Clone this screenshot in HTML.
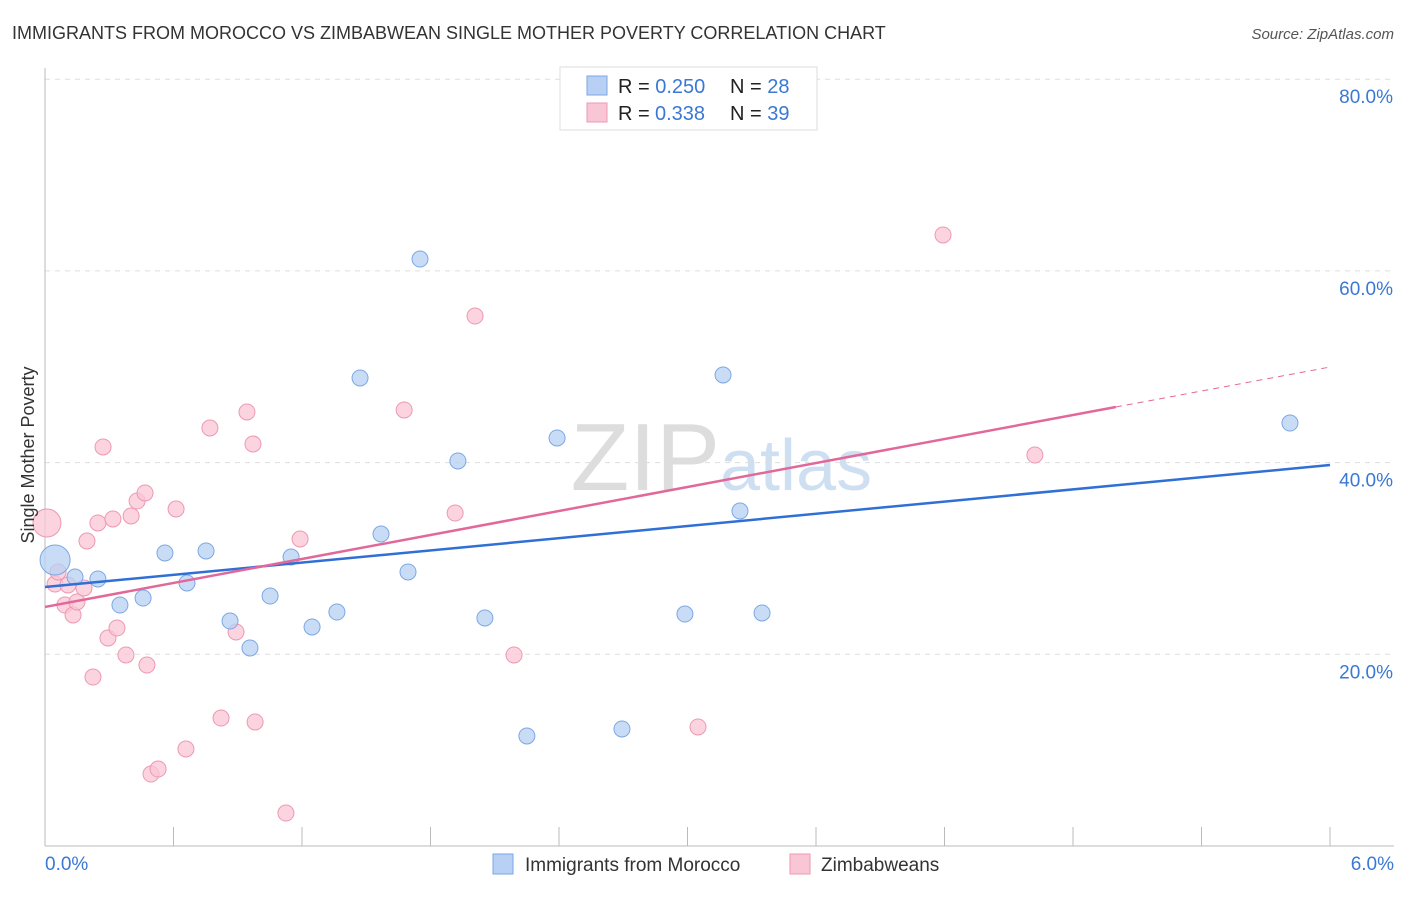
<!DOCTYPE html>
<html><head><meta charset="utf-8"><style>
body{margin:0;background:#fff;font-family:"Liberation Sans",sans-serif;}
svg text{font-family:"Liberation Sans",sans-serif;}
</style></head><body>
<svg id="chart" width="1406" height="892" xmlns="http://www.w3.org/2000/svg">
<text x="12" y="39" font-size="18" fill="#333">IMMIGRANTS FROM MOROCCO VS ZIMBABWEAN SINGLE MOTHER POVERTY CORRELATION CHART</text>
<text x="1394" y="39" font-size="15" fill="#555" font-style="italic" text-anchor="end">Source: ZipAtlas.com</text>
<text x="720" y="490" font-size="96" fill="#ddd" text-anchor="end" font-family="Liberation Serif">ZIP</text>
<text x="720" y="490" font-size="72" fill="#cfdff2">atlas</text>
<g id="grid"></g>
<g id="axes"></g>
<g id="marks"></g>
<text transform="translate(34,455) rotate(-90)" font-size="18" fill="#333" text-anchor="middle">Single Mother Poverty</text>
<g>
<rect x="560" y="67" width="257" height="63" fill="#fff" stroke="#ddd"/>
<rect x="587" y="76" width="20" height="19" fill="#b7d0f3" stroke="#7da7e4"/>
<rect x="587" y="103" width="20" height="19" fill="#f9c6d5" stroke="#ee98b2"/>
<text x="618" y="93" font-size="20" fill="#222">R = <tspan fill="#3a78d4">0.250</tspan><tspan x="730">N = </tspan><tspan fill="#3a78d4">28</tspan></text>
<text x="618" y="120" font-size="20" fill="#222">R = <tspan x="655" fill="#3a78d4">0.338</tspan><tspan x="730">N = </tspan><tspan fill="#3a78d4">39</tspan></text>
</g>
<g>
<rect x="493" y="854" width="20" height="20" fill="#b7d0f3" stroke="#7da7e4"/>
<text x="525" y="871" font-size="19" fill="#333">Immigrants from Morocco</text>
<rect x="790" y="854" width="20" height="20" fill="#f9c6d5" stroke="#ee98b2"/>
<text x="821" y="871" font-size="19" fill="#333">Zimbabweans</text>
</g>
</svg>
<script>
const blueX=[0.047,0.140,0.247,0.350,0.458,0.560,0.663,0.752,0.864,0.957,1.051,1.149,1.247,1.363,1.471,1.569,1.695,1.751,1.928,2.054,2.250,2.391,2.694,2.988,3.166,3.245,3.348,5.813];
const blueY=[29.84,28.06,27.86,25.14,25.87,30.57,27.44,30.78,23.47,20.66,26.08,30.15,22.85,24.41,48.83,32.55,28.59,61.24,40.17,23.79,11.48,42.57,12.21,24.20,49.14,34.95,24.31,44.13];
const pinkX=[0.009,0.047,0.061,0.093,0.107,0.131,0.149,0.182,0.196,0.224,0.247,0.271,0.294,0.317,0.336,0.378,0.402,0.430,0.467,0.476,0.495,0.528,0.612,0.658,0.770,0.822,0.892,0.943,0.971,0.981,1.125,1.191,1.677,1.915,2.008,2.190,3.049,4.193,4.622];
const pinkY=[33.70,27.33,28.59,25.14,27.23,24.10,25.46,26.92,31.82,17.63,33.70,41.63,21.70,34.12,22.74,19.93,34.43,35.99,36.83,18.88,7.51,8.03,35.16,10.12,43.61,13.35,22.33,45.28,41.94,12.94,3.44,32.03,45.49,34.74,55.29,19.93,12.42,63.75,40.79];
const yTicks=[20,40,60,80];
const xTickLabels=["0.0%","6.0%"];
const blueTrend=[27.02,39.75];
const pinkTrend=[24.94,49.97];
const pinkSolidEnd=5.0;
const NS="http://www.w3.org/2000/svg";
const X=v=>45+v/6*1285, Y=v=>846-v*9.585;
function mk(tag,attrs,parent){const e=document.createElementNS(NS,tag);for(const k in attrs)e.setAttribute(k,attrs[k]);parent.appendChild(e);return e;}
const grid=document.getElementById('grid'),axes=document.getElementById('axes'),marks=document.getElementById('marks');
yTicks.forEach(t=>{
 const l=mk('line',{x1:45,x2:1394,y1:Y(t),y2:Y(t),stroke:'#ddd','stroke-dasharray':'5,5'},grid);
 
 
 const tx=mk('text',{x:1393,y:Y(t)+24,'font-size':19,fill:'#3a78d4','text-anchor':'end'},axes);tx.textContent=t.toFixed(1)+'%';
 
 
});
const ax=mk('line',{x1:45,x2:45,y1:68,y2:846,stroke:'#bbb'},axes);


const bx=mk('line',{x1:45,x2:1394,y1:846,y2:846,stroke:'#bbb'},axes);


for(let i=0;i<=10;i++){const t=mk('line',{x1:X(i*0.6),x2:X(i*0.6),y1:827,y2:846,stroke:'#bbb'},axes);
 
 }
[[0,xTickLabels[0],'start',45],[6,xTickLabels[1],'end',1394]].forEach(([v,s,a,px])=>{const t=mk('text',{x:px,y:870,'font-size':19,fill:'#3a78d4','text-anchor':a},axes);t.textContent=s;
 
 });
function dot(x,y,fill,stroke,r,name){const c=mk('circle',{cx:X(x),cy:Y(y),r:r,fill:fill,stroke:stroke,'stroke-width':1,'fill-opacity':0.75},marks);
 
 }
pinkX.forEach((x,i)=>dot(x,pinkY[i],'#f9c6d5','#ee98b2',i===0?14:8,'zimbabwean-point'));
blueX.forEach((x,i)=>dot(x,blueY[i],'#b7d0f3','#7da7e4',i===0?15:8,'morocco-point'));
const bl=mk('line',{x1:X(0),y1:Y(blueTrend[0]),x2:X(6),y2:Y(blueTrend[1]),stroke:'#2f6fd6','stroke-width':2.5},marks);


const py=x=>pinkTrend[0]+(pinkTrend[1]-pinkTrend[0])*x/6;
const pl=mk('line',{x1:X(0),y1:Y(py(0)),x2:X(pinkSolidEnd),y2:Y(py(pinkSolidEnd)),stroke:'#e2689a','stroke-width':2.5},marks);


const pd=mk('line',{x1:X(pinkSolidEnd),y1:Y(py(pinkSolidEnd)),x2:X(6),y2:Y(py(6)),stroke:'#e2689a','stroke-width':1,'stroke-dasharray':'6,5'},marks);


</script>
</body></html>
